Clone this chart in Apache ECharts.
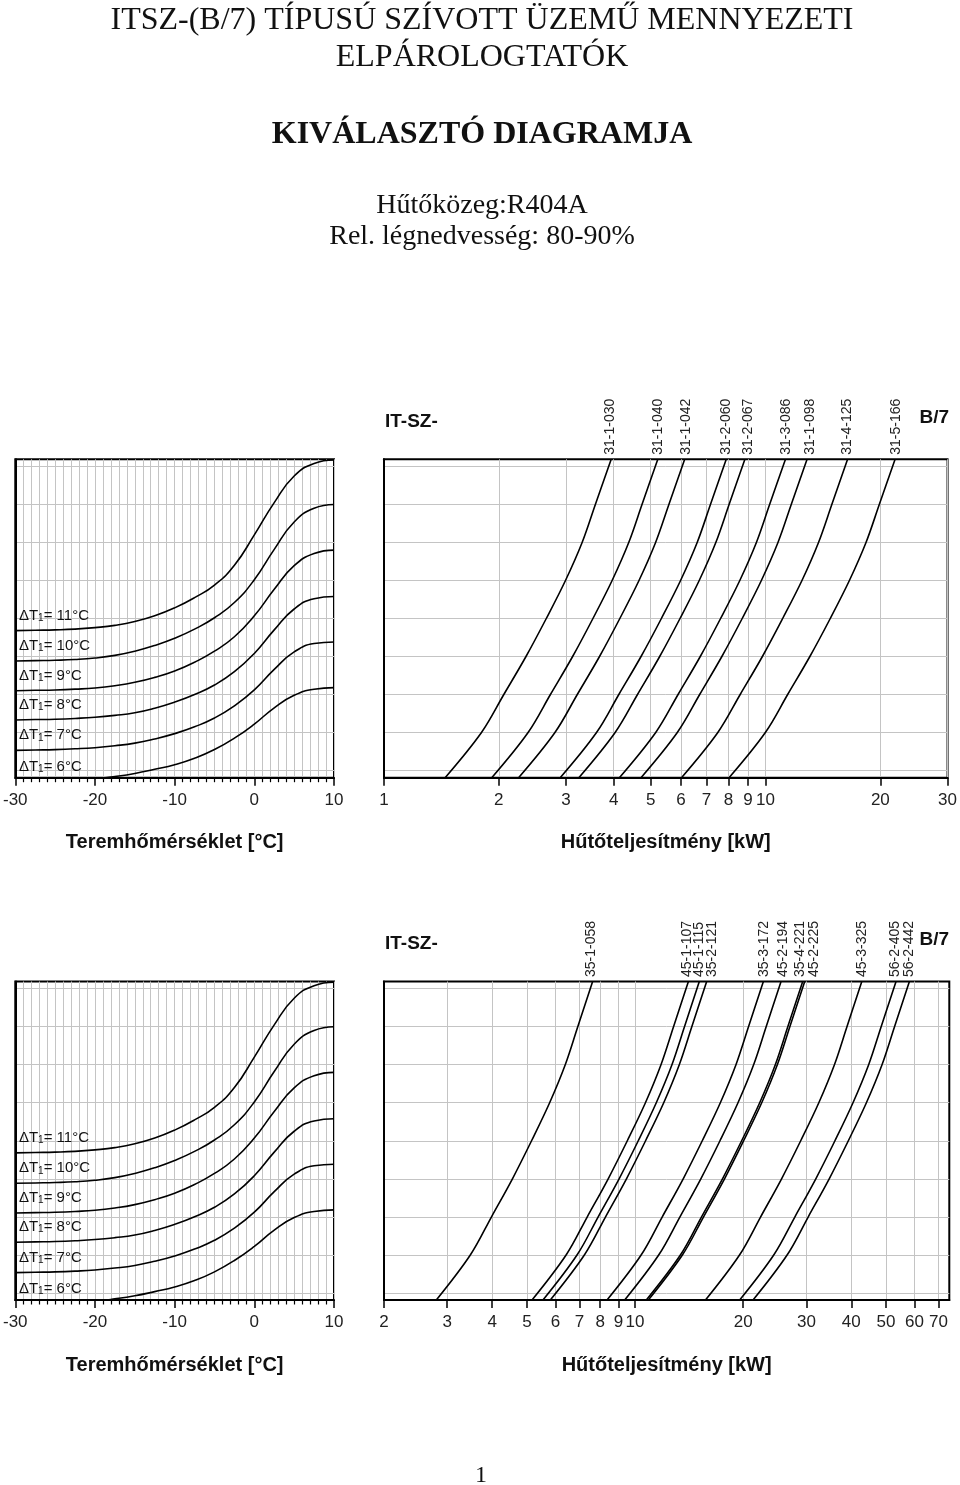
<!DOCTYPE html>
<html><head><meta charset="utf-8">
<script src="https://cdn.jsdelivr.net/npm/echarts@6/dist/echarts.min.js"></script>
<style>html,body{margin:0;padding:0;background:#fff}#c{width:960px;height:1485px}</style>
</head><body><div id="c"></div>
<script>
// ---------------- DATA ----------------
// Left panels: room temperature [°C] vs. (unlabelled) nomogram level
const tempX = [-30, -27.5, -25, -22.5, -20, -17.5, -15, -12.5, -10, -7.5, -5, -2.5, 0, 2.5, 5, 7.5, 10];
const dT11 = [3.68, 3.69, 3.70, 3.72, 3.76, 3.82, 3.92, 4.07, 4.28, 4.55, 4.88, 5.40, 6.20, 7.05, 7.75, 8.08, 8.17];
const dT10 = [2.88, 2.89, 2.90, 2.92, 2.96, 3.03, 3.14, 3.29, 3.48, 3.72, 4.02, 4.42, 5.02, 5.82, 6.54, 6.90, 7.00];
const dT9  = [2.10, 2.11, 2.12, 2.14, 2.17, 2.23, 2.32, 2.45, 2.62, 2.85, 3.14, 3.52, 4.07, 4.77, 5.39, 5.71, 5.80];
const dT8  = [1.33, 1.34, 1.35, 1.37, 1.40, 1.45, 1.52, 1.64, 1.80, 2.00, 2.25, 2.60, 3.08, 3.70, 4.25, 4.52, 4.58];
const dT7  = [0.53, 0.54, 0.55, 0.57, 0.60, 0.65, 0.72, 0.83, 0.97, 1.15, 1.38, 1.70, 2.12, 2.66, 3.12, 3.34, 3.38];
const dT6  = [-0.30, -0.29, -0.28, -0.25, -0.22, -0.16, -0.08, 0.03, 0.15, 0.32, 0.55, 0.85, 1.22, 1.65, 1.98, 2.14, 2.18];
const dTValues = [11, 10, 9, 8, 7, 6];
const dTCurves = [dT11, dT10, dT9, dT8, dT7, dT6];

// Right panels: cooling capacity [kW] at each nomogram level
const levels = [-0.19, 1, 2, 3, 4, 5, 6, 7, 8.19];
const levelLines = [0, 1, 2, 3, 4, 5, 6, 7, 8];

const c_31_1_030 = [1.446, 1.801, 2.061, 2.356, 2.663, 2.990, 3.306, 3.581, 3.94];
const c_31_1_040 = [1.916, 2.386, 2.730, 3.122, 3.529, 3.962, 4.380, 4.745, 5.22];
const c_31_1_042 = [2.253, 2.806, 3.211, 3.672, 4.151, 4.660, 5.151, 5.581, 6.14];
const c_31_2_060 = [2.896, 3.606, 4.126, 4.718, 5.334, 5.989, 6.620, 7.172, 7.89];
const c_31_2_067 = [3.241, 4.035, 4.618, 5.280, 5.969, 6.702, 7.408, 8.026, 8.83];
const c_31_3_086 = [4.140, 5.155, 5.899, 6.745, 7.625, 8.562, 9.464, 10.25, 11.28];
const c_31_1_098 = [4.716, 5.872, 6.721, 7.684, 8.687, 9.753, 10.78, 11.68, 12.85];
const c_31_4_125 = [6.022, 7.499, 8.582, 9.813, 11.09, 12.46, 13.77, 14.92, 16.41];
const c_31_5_166 = [8.023, 9.990, 11.43, 13.07, 14.78, 16.59, 18.34, 19.87, 21.86];
const topModels = ['31-1-030','31-1-040','31-1-042','31-2-060','31-2-067','31-3-086','31-1-098','31-4-125','31-5-166'];
const topCurves = [c_31_1_030, c_31_1_040, c_31_1_042, c_31_2_060, c_31_2_067, c_31_3_086, c_31_1_098, c_31_4_125, c_31_5_166];

const c_35_1_058 = [2.797, 3.482, 3.985, 4.557, 5.151, 5.784, 6.393, 6.927, 7.62];
const c_45_1_107 = [5.167, 6.435, 7.364, 8.420, 9.518, 10.69, 11.81, 12.80, 14.08];
const c_45_1_115 = [5.542, 6.901, 7.897, 9.030, 10.21, 11.46, 12.67, 13.73, 15.10];
const c_35_2_121 = [5.810, 7.234, 8.279, 9.466, 10.70, 12.02, 13.28, 14.39, 15.83];
const c_35_3_172 = [8.357, 10.41, 11.91, 13.62, 15.39, 17.28, 19.10, 20.70, 22.77];
const c_45_2_194 = [9.359, 11.65, 13.34, 15.25, 17.24, 19.35, 21.39, 23.18, 25.50];
const c_35_4_221 = [10.75, 13.39, 15.32, 17.52, 19.81, 22.24, 24.58, 26.63, 29.30];
const c_45_2_225 = [10.89, 13.56, 15.52, 17.75, 20.06, 22.53, 24.90, 26.98, 29.68];
const c_45_3_325 = [15.71, 19.56, 22.38, 25.59, 28.93, 32.49, 35.91, 38.91, 42.80];
const c_56_2_405 = [19.56, 24.36, 27.88, 31.87, 36.03, 40.45, 44.72, 48.45, 53.30];
const c_56_2_442 = [21.31, 26.54, 30.37, 34.73, 39.26, 44.08, 48.72, 52.79, 58.07];
const bottomModels = ['35-1-058','45-1-107','45-1-115','35-2-121','35-3-172','45-2-194','35-4-221','45-2-225','45-3-325','56-2-405','56-2-442'];
const bottomCurves = [c_35_1_058, c_45_1_107, c_45_1_115, c_35_2_121, c_35_3_172, c_45_2_194, c_35_4_221, c_45_2_225, c_45_3_325, c_56_2_405, c_56_2_442];

// Tick labels
const tempTicks = [-30, -20, -10, 0, 10];
const kwTicksTop = [1, 2, 3, 4, 5, 6, 7, 8, 9, 10, 20, 30];
const kwTicksBottom = [2, 3, 4, 5, 6, 7, 8, 9, 10, 20, 30, 40, 50, 60, 70];
const kwRangeTop = [1, 30];
const kwRangeBottom = [2, 75];

// ---------------- STYLE ----------------
const SANS = '"Liberation Sans", Arial, sans-serif';
const SERIF = '"Liberation Serif", "Times New Roman", serif';
const GRID_C = '#c4c4c4';
const topLabelDx = [-1, 0, 1.5, 0, 3, 1, 3, 0, 1.5];
const bottomLabelDx = [-1, -1.6, 0, 5, 1, 1.7, -2.7, 9.3, 0, -1, 0];

const chart = echarts.init(document.getElementById('c'), null, {renderer: 'canvas', width: 960, height: 1485});

const grids = [
  {left: 14.7, top: 459.3, width: 319.3, height: 318.4},
  {left: 384,  top: 459.3, width: 565.3, height: 318.4},
  {left: 14.7, top: 981.5, width: 319.3, height: 318.5},
  {left: 384,  top: 981.5, width: 565.3, height: 318.5}
].map(g => Object.assign({show: true, borderColor: '#000', borderWidth: 2, backgroundColor: 'transparent', containLabel: false}, g));

const nameStyle = {fontFamily: SANS, fontWeight: 'bold', fontSize: 20, color: '#111'};
const labelStyle = {fontFamily: SANS, fontSize: 17, color: '#222', margin: 14};

function tempAxis(g) {
  return {
    type: 'value', gridIndex: g,
    min: tempTicks[0], max: tempTicks[tempTicks.length - 1], interval: tempTicks[1] - tempTicks[0],
    name: 'Teremhőmérséklet [°C]', nameLocation: 'middle', nameGap: 55, nameTextStyle: nameStyle,
    axisLine: {show: true, onZero: false, lineStyle: {color: '#000', width: 2}},
    axisTick: {show: true, length: 8, lineStyle: {color: '#000', width: 1.5}},
    minorTick: {show: true, splitNumber: 10, length: 4.5, lineStyle: {color: '#000', width: 1.2}},
    axisLabel: Object.assign({formatter: v => String(v)}, labelStyle),
    splitLine: {show: true, lineStyle: {color: GRID_C, width: 1}},
    minorSplitLine: {show: true, lineStyle: {color: GRID_C, width: 1}}
  };
}
function kwAxis(g, ticks, range) {
  return {
    type: 'log', logBase: 10, gridIndex: g, min: range[0], max: range[1],
    name: 'Hűtőteljesítmény [kW]', nameLocation: 'middle', nameGap: 55, nameTextStyle: nameStyle,
    axisLine: {show: true, onZero: false, lineStyle: {color: '#000', width: 2}},
    axisTick: {show: true, length: 8, customValues: ticks, lineStyle: {color: '#000', width: 1.5}},
    axisLabel: Object.assign({customValues: ticks, formatter: v => String(Math.round(v))}, labelStyle),
    splitLine: {show: true, lineStyle: {color: GRID_C, width: 1}},
    minorTick: {show: false}, minorSplitLine: {show: false}
  };
}
function levelAxis(g) {
  return {
    type: 'value', gridIndex: g, min: -0.19, max: 8.19,
    axisLine: {show: true, onZero: false, lineStyle: {color: '#000', width: 2}},
    axisTick: {show: false, customValues: levelLines},
    axisLabel: {show: false},
    splitLine: {show: true, lineStyle: {color: GRID_C, width: 1}}
  };
}

const series = [];
[0, 2].forEach(g => {
  dTCurves.forEach((arr, k) => {
    series.push({
      type: 'line', name: 'dT' + dTValues[k] + '_' + g, xAxisIndex: g, yAxisIndex: g,
      data: tempX.map((x, i) => [x, arr[i]]),
      showSymbol: false, smooth: 0.5, clip: true, silent: true,
      lineStyle: {color: '#000', width: 1.6}, z: 5
    });
  });
});
[[1, topCurves, topModels], [3, bottomCurves, bottomModels]].forEach(([g, curves, names]) => {
  curves.forEach((arr, k) => {
    series.push({
      type: 'line', name: names[k], xAxisIndex: g, yAxisIndex: g,
      data: levels.map((y, i) => [arr[i], y]),
      showSymbol: false, smooth: 0.35, clip: true, silent: true,
      lineStyle: {color: '#000', width: 1.6}, z: 5
    });
  });
});

chart.setOption({
  animation: false,
  backgroundColor: '#fff',
  grid: grids,
  xAxis: [tempAxis(0), kwAxis(1, kwTicksTop, kwRangeTop), tempAxis(2), kwAxis(3, kwTicksBottom, kwRangeBottom)],
  yAxis: [levelAxis(0), levelAxis(1), levelAxis(2), levelAxis(3)],
  series: series
});

// ---------------- TEXT ----------------
const elements = [];
function serifText(txt, y, size, bold) {
  elements.push({type: 'text', x: 482, y: y, z: 100, silent: true,
    style: {text: txt, fontFamily: SERIF, fontSize: size, fontWeight: bold ? 'bold' : 'normal', fill: '#111', align: 'center', verticalAlign: 'middle'}});
}
serifText('ITSZ-(B/7) TÍPUSÚ SZÍVOTT ÜZEMŰ MENNYEZETI', 21, 32, false);
serifText('ELPÁROLOGTATÓK', 58, 32, false);
serifText('KIVÁLASZTÓ DIAGRAMJA', 135, 32, true);
serifText('Hűtőközeg:R404A', 206, 28, false);
serifText('Rel. légnedvesség: 80-90%', 237, 28, false);
elements.push({type: 'text', x: 481, y: 1476, z: 100, silent: true,
  style: {text: '1', fontFamily: SERIF, fontSize: 24, fill: '#111', align: 'center', verticalAlign: 'middle'}});

[[422, 418], [944, 940]].forEach(([yIt, yB]) => {
  elements.push({type: 'text', x: 385, y: yIt, z: 100, silent: true,
    style: {text: 'IT-SZ-', fontFamily: SANS, fontSize: 19, fontWeight: 'bold', fill: '#111', align: 'left', verticalAlign: 'middle'}});
  elements.push({type: 'text', x: 949, y: yB, z: 100, silent: true,
    style: {text: 'B/7', fontFamily: SANS, fontSize: 19, fontWeight: 'bold', fill: '#111', align: 'right', verticalAlign: 'middle'}});
});

// ΔT labels at the left end of each curve
[0, 2].forEach(g => {
  dTCurves.forEach((arr, k) => {
    const p = chart.convertToPixel({xAxisIndex: g, yAxisIndex: g}, [tempX[0], arr[0]]);
    elements.push({type: 'text', x: p[0] + 3.6, y: p[1] - 7.5, z: 100, silent: true,
      style: {
        text: '{m|ΔT}{s|1}{m|= ' + dTValues[k] + '°C}',
        align: 'left', verticalAlign: 'bottom', fill: '#111',
        rich: {
          m: {fontFamily: SANS, fontSize: 15, lineHeight: 15, fill: '#111', verticalAlign: 'bottom'},
          s: {fontFamily: SANS, fontSize: 10, lineHeight: 8, fill: '#111', verticalAlign: 'bottom'}
        }
      }});
  });
});

// Model labels at the top end of each capacity curve
[[1, topCurves, topModels, topLabelDx], [3, bottomCurves, bottomModels, bottomLabelDx]].forEach(([g, curves, names, dxs]) => {
  curves.forEach((arr, k) => {
    const last = arr.length - 1;
    const p = chart.convertToPixel({xAxisIndex: g, yAxisIndex: g}, [arr[last], levels[last]]);
    elements.push({type: 'text', x: p[0] + dxs[k], y: p[1] - 4.5, rotation: Math.PI / 2, z: 100, silent: true,
      style: {text: names[k], fontFamily: SANS, fontSize: 14, fill: '#222', align: 'left', verticalAlign: 'middle'}});
  });
});

chart.setOption({graphic: {elements: elements}});
</script>
</body></html>
